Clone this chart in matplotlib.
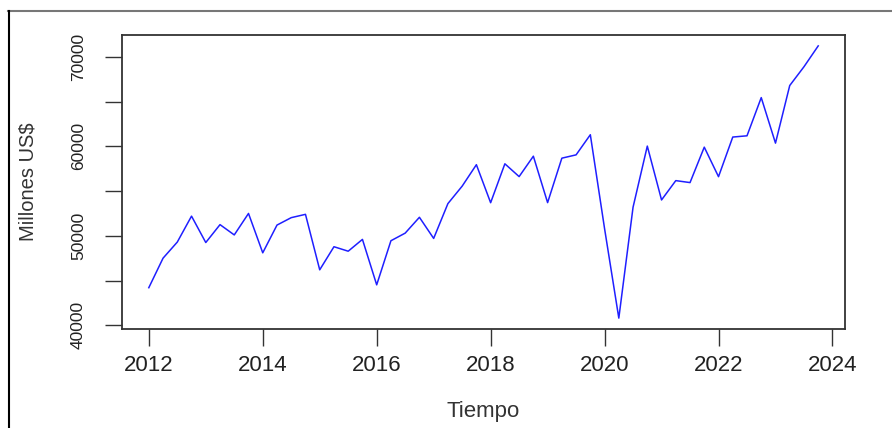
import numpy as np
import matplotlib
matplotlib.use("Agg")
import matplotlib.pyplot as plt
from matplotlib.lines import Line2D

plt.rcParams["font.family"] = ["Liberation Sans", "DejaVu Sans"]

# quarterly series, 2012 Q1 - 2023 Q4 (millones US$)
start_year = 2012
values = [
    44200, 47500, 49300, 52200,
    49250, 51250, 50100, 52500,
    48100, 51200, 52030, 52400,
    46200, 48780, 48280, 49600,
    44520, 49450, 50300, 52070,
    49710, 53600, 55550, 57950,
    53700, 58050, 56620, 58900,
    53710, 58680, 59050, 61300,
    50800, 40800, 53200, 60030,
    54010, 56170, 55950, 59910,
    56610, 61040, 61180, 65450,
    60360, 66800, 68900, 71230,
]
x_ticks = [2012, 2014, 2016, 2018, 2020, 2022, 2024]
y_ticks = [40000, 45000, 50000, 55000, 60000, 65000, 70000]
y_labels = ["40000", "", "50000", "", "60000", "", "70000"]

t = start_year + np.arange(len(values)) / 4.0

fig = plt.figure(figsize=(8.92, 4.28), dpi=100)
ax = fig.add_axes([0.1368, 0.2313, 0.8105, 0.6869])

ax.plot(t, values, color="#1f1fff", linewidth=1.1)
ax.margins(x=0.04, y=0.04)

ax.set_xticks(x_ticks)
ax.set_xticklabels([str(v) for v in x_ticks], fontsize=16, color="#222222")
ax.set_yticks(y_ticks)
ax.set_yticklabels(y_labels, fontsize=12.5, rotation=90, va="center", color="#222222")
ax.tick_params(axis="both", direction="out", length=12, width=1.0, color="#333333")
ax.tick_params(axis="x", pad=7)
ax.tick_params(axis="y", pad=14)

for s in ax.spines.values():
    s.set_linewidth(1.3)
    s.set_color("#333333")

ax.set_xlabel("Tiempo", fontsize=16, color="#333333", labelpad=18)
ax.set_ylabel("Millones US$", fontsize=14.5, color="#333333", labelpad=24)

# outer screenshot frame (top and left edges)
fig.add_artist(Line2D([8 / 892, 1], [1 - 10.5 / 428, 1 - 10.5 / 428],
                      transform=fig.transFigure, color="#777777", linewidth=1.5))
fig.add_artist(Line2D([8.5 / 892, 8.5 / 892], [0, 1 - 10.5 / 428],
                      transform=fig.transFigure, color="black", linewidth=1.5))

fig.savefig("out.png", dpi=100)
